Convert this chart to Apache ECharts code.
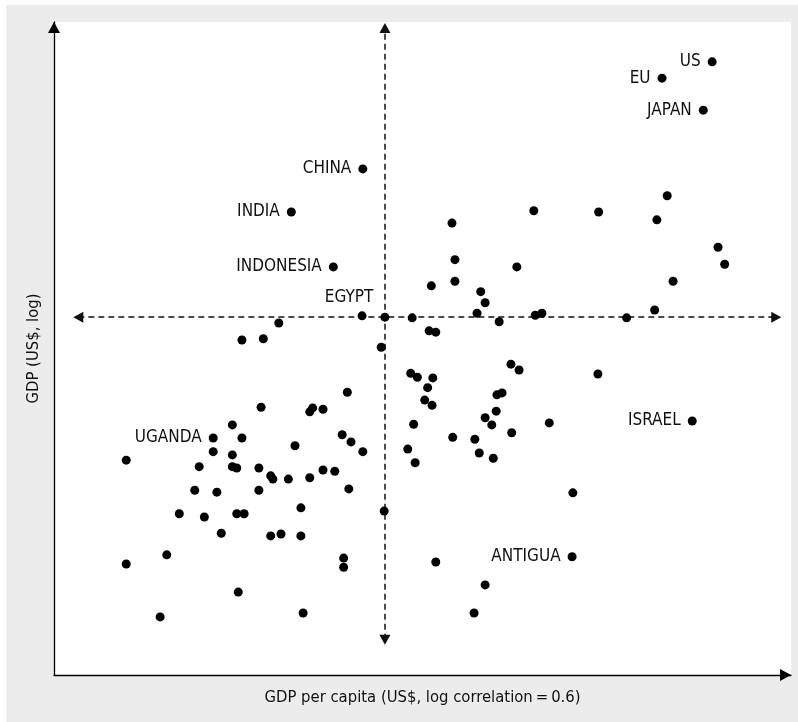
<!DOCTYPE html>
<html>
<head>
<meta charset="utf-8">
<script src="https://cdn.jsdelivr.net/npm/echarts@6/dist/echarts.min.js"></script>
<style>
  html, body { margin: 0; padding: 0; background: #ffffff; }
  #bg { position: absolute; left: 6px; top: 5px; width: 792px; height: 717px; background: #ececec; }
  #chart { position: absolute; left: 0; top: 0; width: 798px; height: 722px; }
</style>
</head>
<body>
<div id="bg"></div>
<div id="chart"></div>
<script>
// Labelled economies (index units, log scales)
const labelNames = ['US', 'EU', 'JAPAN', 'CHINA', 'INDIA', 'INDONESIA', 'EGYPT', 'UGANDA', 'ISRAEL', 'ANTIGUA'];
const labelGdpPerCapita = [89.3, 82.5, 88.1, 41.9, 32.2, 37.9, 41.8, 21.6, 86.6, 70.3];
const labelGdp = [93.9, 91.4, 86.5, 77.5, 70.9, 62.5, 55.0, 36.3, 38.9, 18.1];

// Other (unlabelled) economies
const otherGdpPerCapita = [
  44.9, 30.5, 25.5, 28.4, 44.4, 83.2, 65.1, 73.9, 81.8, 54.0,
  90.1, 91.0, 54.4, 62.8, 51.2, 54.4, 84.0, 57.9, 58.5, 57.4,
  81.5, 48.6, 65.3, 66.2, 77.7, 60.4, 50.9, 51.8, 62.0, 63.1,
  73.8, 48.4, 49.3, 51.4, 50.7, 50.3, 51.3, 60.1, 60.8, 60.0,
  58.5, 59.4, 62.1, 48.8, 67.2, 54.1, 57.1, 48.0, 57.7, 59.6,
  49.0, 70.4, 51.8, 58.5, 57.0, 39.8, 28.1, 34.7, 35.1, 36.5,
  24.2, 25.5, 39.1, 40.3, 41.9, 32.7, 9.8, 21.6, 24.2, 19.7,
  24.2, 24.8, 27.8, 29.4, 29.7, 31.8, 34.7, 36.5, 38.1, 19.1,
  22.1, 27.8, 40.0, 33.5, 44.8, 17.0, 20.4, 24.8, 25.8, 22.7,
  29.4, 30.8, 33.5, 15.3, 9.8, 39.3, 39.3, 25.0, 14.4, 33.8
];
const otherGdp = [
  54.8, 53.9, 51.3, 51.5, 50.2, 73.4, 71.1, 70.9, 69.7, 69.2,
  65.5, 62.9, 63.6, 62.5, 59.6, 60.3, 60.3, 58.7, 57.0, 55.4,
  55.9, 54.7, 55.1, 55.4, 54.7, 54.1, 52.7, 52.5, 47.6, 46.7,
  46.1, 46.2, 45.6, 45.5, 44.0, 42.1, 41.3, 42.9, 43.2, 40.4,
  39.4, 38.3, 37.1, 38.4, 38.6, 36.4, 36.1, 34.6, 34.0, 33.2,
  32.5, 27.9, 17.3, 13.8, 9.5, 43.3, 41.0, 40.3, 40.9, 40.7,
  38.3, 36.3, 36.8, 35.7, 34.2, 35.1, 32.9, 34.2, 33.7, 31.9,
  31.9, 31.7, 31.7, 30.5, 30.0, 30.0, 30.2, 31.4, 31.2, 28.3,
  28.0, 28.3, 28.5, 25.6, 25.1, 24.7, 24.2, 24.7, 24.7, 21.7,
  21.3, 21.6, 21.3, 18.4, 17.0, 17.9, 16.5, 12.7, 8.9, 9.5
];

// Median crosshair (centre point) and its extent
const medianGdpPerCapita = 44.9;
const medianGdp = 54.8;
const crossXRange = [3.3, 98.0];
const crossYRange = [5.4, 99.1];

const FONT = '"Liberation Sans Narrow", "DejaVu Sans Condensed", "Roboto", sans-serif';

const labelled = labelNames.map((n, i) => {
  const item = { value: [labelGdpPerCapita[i], labelGdp[i]], name: n };
  if (n === 'EGYPT') {
    item.label = { position: 'top', offset: [-13, -1], distance: 4 };
  }
  return item;
});
const others = otherGdpPerCapita.map((x, i) => [x, otherGdp[i]]);

const chart = echarts.init(document.getElementById('chart'), null, { renderer: 'canvas' });
chart.setOption({
  backgroundColor: 'transparent',
  animation: false,
  grid: {
    left: 54, right: 7, top: 22, bottom: 47,
    show: true, backgroundColor: '#ffffff', borderWidth: 0
  },
  xAxis: {
    type: 'value', min: 0, max: 100,
    name: 'GDP per capita (US$, log correlation\u2009=\u20090.6)',
    nameLocation: 'middle', nameGap: 14,
    nameTextStyle: { fontFamily: FONT, fontSize: 16.5, color: '#111' },
    axisLine: { show: true, lineStyle: { color: '#000', width: 1.3 }, symbol: ['none', 'triangle'], symbolSize: [12, 11], symbolOffset: [0, -5.5] },
    axisTick: { show: false }, axisLabel: { show: false }, splitLine: { show: false }
  },
  yAxis: {
    type: 'value', min: 0, max: 100,
    name: 'GDP (US$, log)',
    nameLocation: 'middle', nameGap: 12,
    nameTextStyle: { fontFamily: FONT, fontSize: 16.5, color: '#111' },
    axisLine: { show: true, lineStyle: { color: '#000', width: 1.3 }, symbol: ['none', 'triangle'], symbolSize: [12, 11], symbolOffset: [0, -5.5] },
    axisTick: { show: false }, axisLabel: { show: false }, splitLine: { show: false }
  },
  series: [
    {
      type: 'scatter',
      data: others,
      symbolSize: 9,
      itemStyle: { color: '#000', opacity: 1 },
      z: 3,
      markLine: {
        silent: true,
        symbol: ['triangle', 'triangle'],
        symbolSize: [11, 10],
        label: { show: false },
        lineStyle: { color: '#111', type: [6, 4], width: 1.5, opacity: 1 },
        z: 2,
        data: [
          [{ coord: [crossXRange[0], medianGdp] }, { coord: [crossXRange[1], medianGdp] }],
          [{ coord: [medianGdpPerCapita, crossYRange[0]] }, { coord: [medianGdpPerCapita, crossYRange[1]] }]
        ]
      }
    },
    {
      type: 'scatter',
      data: labelled,
      symbolSize: 9,
      itemStyle: { color: '#000', opacity: 1 },
      z: 4,
      label: {
        show: true,
        position: 'left',
        distance: 7,
        formatter: p => p.name,
        fontFamily: FONT,
        fontSize: 17,
        color: '#111'
      }
    }
  ]
});
</script>
</body>
</html>
